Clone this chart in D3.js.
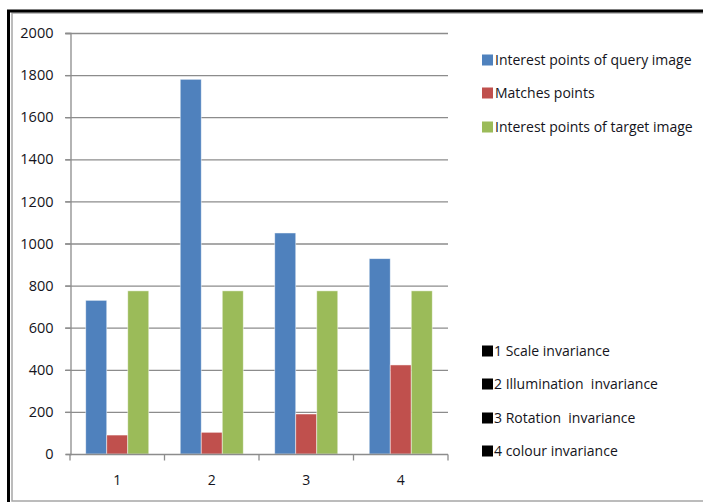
<!DOCTYPE html>
<html>
<head>
<meta charset="utf-8">
<script src="https://cdn.jsdelivr.net/npm/d3@7"></script>
<style>
  body { margin: 0; background: #fff; }
  svg text { font-family: "Open Sans", "Noto Sans", sans-serif; fill: #141420; }
</style>
</head>
<body>
<svg id="chart" width="703" height="502"></svg>
<script>
const categories = ["1", "2", "3", "4"];
const seriesNames = ["Interest points of query image", "Matches points", "Interest points of target image"];
const queryPoints = [730, 1780, 1050, 928];
const matchPoints = [90, 103, 190, 423];
const targetPoints = [775, 775, 775, 775];
const yTicks = [0, 200, 400, 600, 800, 1000, 1200, 1400, 1600, 1800, 2000];
const notes = ["1 Scale invariance", "2 Illumination  invariance", "3 Rotation  invariance", "4 colour invariance"];

const colors = ["#4f81bd", "#c0504d", "#9bbb59"];
const seriesValues = [queryPoints, matchPoints, targetPoints];

const svg = d3.select("#chart");
const margin = { top: 33, right: 255, bottom: 48, left: 70 };
const width = +svg.attr("width");
const height = +svg.attr("height");

// outer frame: thick black on top/left, thin grey inside
svg.append("rect").attr("x", 12).attr("y", 13).attr("width", 700).attr("height", 488)
  .attr("fill", "none").attr("stroke", "#a6a6a6").attr("stroke-width", 1.5);
svg.append("path").attr("d", "M8.5,502 V11 H703")
  .attr("fill", "none").attr("stroke", "#000").attr("stroke-width", 3);

const x = d3.scaleBand()
  .domain(categories)
  .range([margin.left, width - margin.right])
  .paddingInner(0.333)
  .paddingOuter(0.1665);
const xInner = d3.scaleBand()
  .domain(d3.range(seriesNames.length))
  .range([0, x.bandwidth()]);
const y = d3.scaleLinear().domain([0, 2000]).range([height - margin.bottom, margin.top]);

// gridlines
svg.append("g")
  .selectAll("line")
  .data(yTicks.filter(d => d > 0))
  .join("line")
  .attr("x1", margin.left - 5).attr("x2", width - margin.right)
  .attr("y1", d => y(d) + 0.5).attr("y2", d => y(d) + 0.5)
  .attr("stroke", "#8c8c8c").attr("stroke-width", 1.3);

// y axis
const yAxis = svg.append("g")
  .attr("transform", `translate(${margin.left + 0.5},0)`)
  .call(d3.axisLeft(y).tickValues(yTicks).tickFormat(d3.format("d")).tickSize(5).tickPadding(12));
yAxis.select(".domain").attr("stroke", "#8c8c8c").attr("stroke-width", 1.3);
yAxis.selectAll(".tick line").attr("stroke", "#8c8c8c").attr("stroke-width", 1.3);
yAxis.selectAll("text").style("font-size", "14.5px").attr("fill", "#141420");

// bars
const groups = svg.append("g")
  .selectAll("g")
  .data(categories)
  .join("g")
  .attr("transform", d => `translate(${x(d)},0)`);

groups.selectAll("rect")
  .data((c, ci) => seriesValues.map((vals, si) => ({ si, v: vals[ci] })))
  .join("rect")
  .attr("x", d => xInner(d.si))
  .attr("width", xInner.bandwidth())
  .attr("y", d => y(d.v))
  .attr("height", d => y(0) - y(d.v))
  .attr("fill", d => colors[d.si])
  .attr("stroke", "rgba(255,255,255,0.6)")
  .attr("stroke-width", 0.8);

// x axis
const step = x.step();
const xAxis = svg.append("g").attr("transform", `translate(0,${y(0) + 0.5})`);
xAxis.append("line")
  .attr("x1", margin.left).attr("x2", width - margin.right)
  .attr("stroke", "#8c8c8c").attr("stroke-width", 1.3);
xAxis.selectAll(".sep")
  .data(d3.range(categories.length + 1))
  .join("line")
  .attr("x1", i => margin.left + i * step).attr("x2", i => margin.left + i * step)
  .attr("y1", 0).attr("y2", 6)
  .attr("stroke", "#8c8c8c").attr("stroke-width", 1.3);
xAxis.selectAll("text")
  .data(categories)
  .join("text")
  .attr("x", d => x(d) + x.bandwidth() / 2)
  .attr("y", 30)
  .attr("text-anchor", "middle")
  .style("font-size", "14px")
  .text(d => d);

// series legend
const legend = svg.append("g").attr("transform", "translate(482,0)");
const legY = [60, 93, 127];
legend.selectAll("rect")
  .data(seriesNames)
  .join("rect")
  .attr("x", 0).attr("y", (d, i) => legY[i] - 5.5)
  .attr("width", 11).attr("height", 11)
  .attr("fill", (d, i) => colors[i]);
legend.selectAll("text")
  .data(seriesNames)
  .join("text")
  .attr("x", 13).attr("y", (d, i) => legY[i])
  .attr("dy", "0.35em")
  .style("font-size", "14px")
  .text(d => d);

// notes legend
const noteY = [351, 384, 418, 451];
const noteG = svg.append("g").attr("transform", "translate(482,0)");
noteG.selectAll("rect")
  .data(notes)
  .join("rect")
  .attr("x", 0).attr("y", (d, i) => noteY[i] - 5.5)
  .attr("width", 11).attr("height", 11)
  .attr("fill", "#000");
noteG.selectAll("text")
  .data(notes)
  .join("text")
  .attr("x", 12).attr("y", (d, i) => noteY[i])
  .attr("dy", "0.35em")
  .style("font-size", "14px")
  .style("white-space", "pre")
  .attr("xml:space", "preserve")
  .text(d => d);
</script>
</body>
</html>
